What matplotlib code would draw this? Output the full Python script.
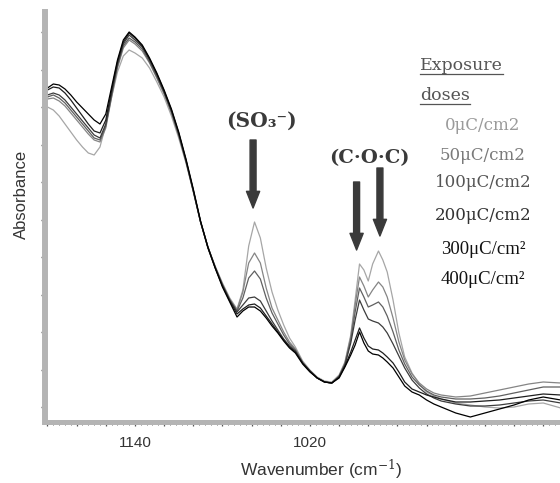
import matplotlib
matplotlib.use("Agg")
import matplotlib.pyplot as plt
from matplotlib.lines import Line2D
from matplotlib.ticker import MultipleLocator, FuncFormatter

plt.rcParams["mathtext.fontset"] = "dejavuserif"

# FTIR spectra (absorbance, arbitrary units) versus wavenumber in cm-1
wavenumber = [
    1200, 1196, 1192, 1188, 1184, 1180, 1176, 1172, 1168, 1164, 1160, 1156, 1152, 1148, 1144, 1140,
    1135, 1130, 1125, 1120, 1115, 1110, 1105, 1100, 1095, 1090, 1085, 1080, 1075,
    1070, 1066, 1062, 1058, 1054, 1050, 1046, 1042, 1038, 1034, 1030,
    1025, 1020, 1015, 1010, 1005, 1000, 996, 992, 989, 986, 983, 980, 977, 973, 970, 967, 963, 959, 955, 950,
    945, 940, 935, 930, 920, 910, 900, 890, 880, 870, 860, 848,
]

abs_0 = [
    .600, .594, .582, .566, .550, .534, .520, .508, .504, .520, .564, .620, .670, .702, .714, .708,
    .698, .678, .650, .620, .582, .538, .488, .430, .370, .320, .282, .248, .218,
    .196, .234, .322, .370, .338, .278, .230, .194, .164, .138, .120,
    .092, .074, .060, .052, .050, .064, .090, .144, .214, .286, .274, .252, .286, .312, .294, .270, .214, .148, .100, .068,
    .046, .030, .022, .016, .008, .004, .000, -.002, .000, .006, .008, -.002,
]

abs_50 = [
    .616, .618, .612, .602, .588, .574, .560, .546, .534, .530, .558, .620, .678, .718, .734, .726,
    .712, .688, .658, .626, .588, .542, .490, .432, .370, .320, .280, .246, .216,
    .194, .230, .288, .308, .288, .238, .198, .174, .150, .130, .116,
    .090, .072, .058, .050, .048, .062, .088, .140, .204, .260, .242, .220, .234, .250, .240, .220, .178, .130, .094, .066,
    .048, .036, .028, .024, .020, .022, .028, .034, .040, .046, .050, .048,
]

abs_100 = [
    .620, .624, .618, .608, .594, .580, .566, .552, .538, .534, .562, .624, .682, .722, .738, .730,
    .716, .690, .660, .628, .590, .544, .492, .432, .370, .320, .280, .244, .214,
    .192, .218, .258, .272, .256, .218, .188, .166, .144, .126, .114,
    .088, .072, .058, .050, .048, .062, .086, .134, .190, .238, .220, .200, .204, .210, .200, .182, .150, .114, .086, .060,
    .044, .032, .024, .020, .016, .016, .018, .022, .028, .034, .040, .040,
]

abs_200 = [
    .624, .628, .624, .614, .600, .586, .572, .558, .544, .538, .566, .628, .686, .726, .744, .734,
    .720, .694, .664, .630, .592, .546, .492, .432, .370, .320, .280, .244, .214,
    .190, .204, .218, .220, .212, .192, .172, .154, .136, .122, .112,
    .088, .072, .058, .050, .048, .060, .084, .128, .174, .214, .194, .176, .172, .168, .160, .148, .126, .102, .078, .054,
    .038, .026, .018, .012, .006, .002, .002, .004, .008, .012, .014, .008,
]

abs_300 = [
    .634, .640, .638, .628, .614, .598, .582, .566, .552, .548, .574, .634, .690, .730, .748, .738,
    .722, .696, .666, .632, .594, .548, .494, .434, .370, .318, .278, .242, .212,
    .186, .196, .204, .206, .198, .182, .166, .150, .134, .120, .110,
    .088, .072, .058, .050, .048, .060, .082, .110, .134, .158, .138, .122, .116, .114, .108, .100, .088, .070, .050, .036,
    .030, .024, .020, .016, .010, .010, .012, .014, .018, .022, .026, .024,
]

abs_400 = [
    .638, .646, .644, .636, .624, .610, .598, .586, .574, .566, .586, .640, .694, .734, .750, .740,
    .724, .698, .668, .634, .596, .550, .496, .436, .372, .320, .278, .240, .210,
    .180, .192, .200, .200, .192, .178, .162, .148, .132, .118, .108,
    .086, .070, .058, .050, .048, .058, .080, .104, .124, .150, .128, .112, .106, .104, .098, .090, .078, .060, .042, .030,
    .024, .014, .006, .000, -.012, -.020, -.012, -.004, .004, .014, .020, .014,
]

dose_labels = ["0μC/cm2", "50μC/cm2", "100μC/cm2", "200μC/cm2", "300μC/cm²", "400μC/cm²"]
spectra = [abs_0, abs_50, abs_100, abs_200, abs_300, abs_400]
line_colors = ["#a6a6a6", "#858585", "#606060", "#3c3c3c", "#1e1e1e", "#000000"]
text_colors = ["#9a9a9a", "#7a7a7a", "#555555", "#333333", "#111111", "#111111"]

fig = plt.figure(figsize=(5.6, 4.83), dpi=100)
ax = fig.add_axes([45 / 560, 61 / 483, 515 / 560, 410 / 483])

for y, c in zip(spectra, line_colors):
    ax.plot(wavenumber, y, color=c, lw=0.9, solid_joinstyle="round")

ax.set_xlim(1201.7, 848.5)
ax.set_ylim(-0.030, 0.790)

for side in ("top", "right"):
    ax.spines[side].set_visible(False)
ax.spines["left"].set_color("#b4b4b4")
ax.spines["left"].set_linewidth(4.3)
ax.spines["bottom"].set_color("#b4b4b4")
ax.spines["bottom"].set_linewidth(3.6)

ax.yaxis.set_major_locator(MultipleLocator(0.075))
ax.yaxis.set_major_formatter(FuncFormatter(lambda v, p: ""))
ax.tick_params(axis="y", which="major", direction="out", length=3, width=1.0,
               color="#555555")

ax.xaxis.set_major_locator(MultipleLocator(20))
ax.xaxis.set_minor_locator(MultipleLocator(4))
ax.xaxis.set_major_formatter(
    FuncFormatter(lambda v, p: f"{v:.0f}" if round(v) in (1140, 1020) else ""))
ax.tick_params(axis="x", which="major", direction="out", length=3, width=0.9,
               color="#555555", pad=7, labelsize=11, labelcolor="#333333")
ax.tick_params(axis="x", which="minor", direction="out", length=2, width=0.7,
               color="#666666")
for lab in ax.get_xticklabels():
    lab.set_fontfamily("Liberation Sans")

fig.text(21 / 560, 1 - 194 / 483, "Absorbance", rotation=90, ha="center", va="center",
         fontsize=12, family="Liberation Sans", color="#333333")
fig.text(321 / 560, 1 - 470 / 483, "Wavenumber (cm$^{-1}$)", ha="center", va="center",
         fontsize=12.5, family="Liberation Sans", color="#333333")

# Band assignments with arrows
arrow_kw = dict(facecolor="#3a3a3a", edgecolor="#3a3a3a", width=4.3, headwidth=9.5,
                headlength=12, shrink=0)
ax.annotate("", xy=(1059, 0.398), xytext=(1059, 0.534), arrowprops=arrow_kw)
ax.annotate("", xy=(988, 0.314), xytext=(988, 0.450), arrowprops=arrow_kw)
ax.annotate("", xy=(972, 0.342), xytext=(972, 0.478), arrowprops=arrow_kw)

ax.text(1053, 0.572, "(SO₃⁻)", ha="center", va="center", fontsize=14.5,
        family="DejaVu Serif", weight="bold", color="#3a3a3a")
ax.text(979, 0.498, "(C·O·C)", ha="center", va="center", fontsize=14,
        family="DejaVu Serif", weight="bold", color="#3a3a3a")

# Dose key
head_texts = [
    fig.text(420 / 560, 1 - 66 / 483, "Exposure", ha="left", va="center",
             fontsize=12.5, family="DejaVu Serif", color="#555555"),
    fig.text(420 / 560, 1 - 96 / 483, "doses", ha="left", va="center",
             fontsize=12.5, family="DejaVu Serif", color="#555555"),
]
key_y = [125, 155, 183, 216, 249, 279]
for i, (lab, col, yy) in enumerate(zip(dose_labels, text_colors, key_y)):
    fam = "DejaVu Serif" if i < 4 else "Liberation Serif"
    fs = 12 if i < 4 else 13.5
    fig.text(483 / 560, 1 - yy / 483, lab, ha="center", va="center", fontsize=fs,
             family=fam, color=col)

# Underline the key heading
fig.canvas.draw()
renderer = fig.canvas.get_renderer()
inv = fig.transFigure.inverted()
for t in head_texts:
    bb = t.get_window_extent(renderer)
    (x0, y0), (x1, _) = inv.transform([(bb.x0, bb.y0), (bb.x1, bb.y1)])
    fig.add_artist(Line2D([x0, x1], [y0 + 0.002, y0 + 0.002], transform=fig.transFigure,
                          color="#555555", lw=0.9))

fig.savefig("out.png", dpi=100)
